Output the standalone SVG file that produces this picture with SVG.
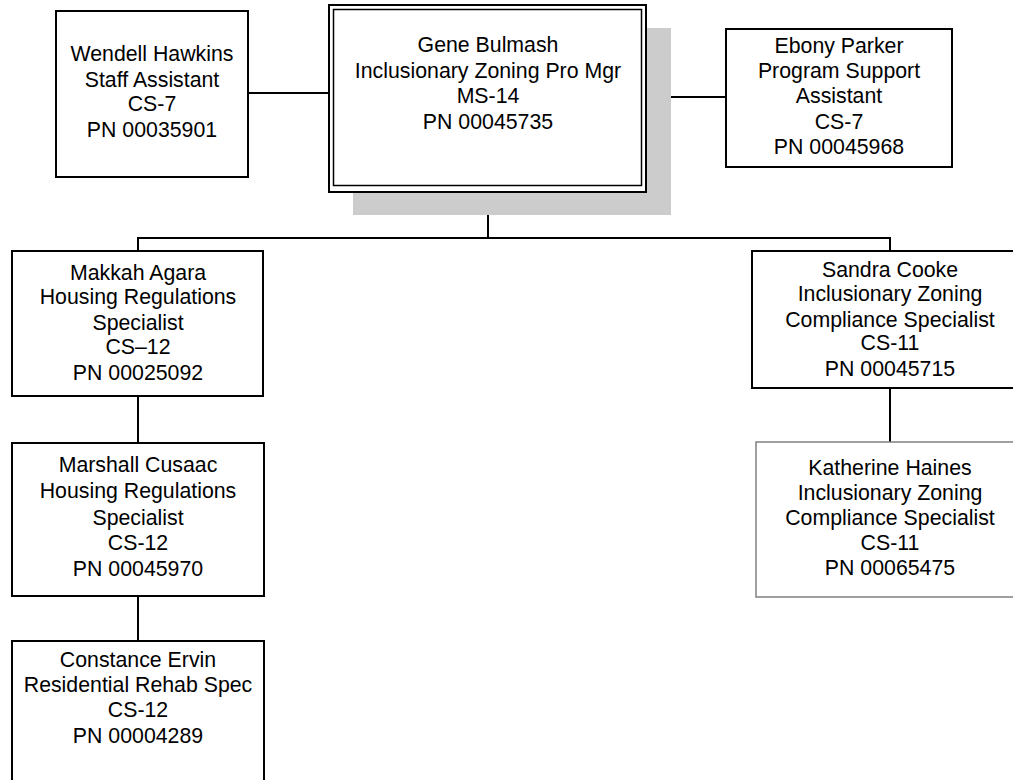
<svg xmlns="http://www.w3.org/2000/svg" width="1013" height="780" viewBox="0 0 1013 780">
  <style>
    .box { fill: #ffffff; stroke: #000000; stroke-width: 2; }
    .box-light { fill: #ffffff; stroke: #808080; stroke-width: 1.5; }
    .shadow { fill: #cccccc; stroke: none; }
    .link { fill: none; stroke: #000000; stroke-width: 2; }
    text { font-family: "Liberation Sans", Arial, sans-serif; font-size: 21.3px; fill: #000000; text-anchor: middle; }
  </style>
  <rect width="1013" height="780" fill="#ffffff"/>

  <!-- reporting lines -->
  <g id="connectors">
    <line class="link" x1="248" y1="93" x2="329" y2="93"/>
    <line class="link" x1="646" y1="97" x2="726" y2="97"/>
    <line class="link" x1="488" y1="192" x2="488" y2="238"/>
    <polyline class="link" points="138,251 138,238 890,238 890,251"/>
    <line class="link" x1="138" y1="396" x2="138" y2="443"/>
    <line class="link" x1="890" y1="388" x2="890" y2="442"/>
    <line class="link" x1="138" y1="596" x2="138" y2="641"/>
  </g>

  <g id="node-bulmash">
    <rect class="shadow" x="353" y="28" width="318" height="187"/>
    <rect class="box" x="329" y="5" width="317" height="187"/>
    <rect fill="none" stroke="#000000" stroke-width="1.5" x="333.5" y="9.5" width="308" height="176"/>
    <text x="488" y="52">Gene Bulmash</text>
    <text x="488" y="78">Inclusionary Zoning Pro Mgr</text>
    <text x="488" y="103">MS-14</text>
    <text x="488" y="129">PN 00045735</text>
  </g>

  <g id="node-hawkins">
    <rect class="box" x="56" y="11" width="192" height="166"/>
    <text x="152" y="61">Wendell Hawkins</text>
    <text x="152" y="87">Staff Assistant</text>
    <text x="152" y="111">CS-7</text>
    <text x="152" y="137">PN 00035901</text>
  </g>

  <g id="node-parker">
    <rect class="box" x="726" y="29" width="226" height="138"/>
    <text x="839" y="53">Ebony Parker</text>
    <text x="839" y="78">Program Support</text>
    <text x="839" y="103">Assistant</text>
    <text x="839" y="129">CS-7</text>
    <text x="839" y="154">PN 00045968</text>
  </g>

  <g id="node-agara">
    <rect class="box" x="12" y="251" width="251" height="145"/>
    <text x="138" y="280">Makkah Agara</text>
    <text x="138" y="304">Housing Regulations</text>
    <text x="138" y="330">Specialist</text>
    <text x="138" y="354">CS–12</text>
    <text x="138" y="380">PN 00025092</text>
  </g>

  <g id="node-cusaac">
    <rect class="box" x="12" y="443" width="252" height="153"/>
    <text x="138" y="472">Marshall Cusaac</text>
    <text x="138" y="498">Housing Regulations</text>
    <text x="138" y="525">Specialist</text>
    <text x="138" y="550">CS-12</text>
    <text x="138" y="576">PN 00045970</text>
  </g>

  <g id="node-ervin">
    <rect class="box" x="12" y="641" width="252" height="150"/>
    <text x="138" y="667">Constance Ervin</text>
    <text x="138" y="692">Residential Rehab Spec</text>
    <text x="138" y="717">CS-12</text>
    <text x="138" y="743">PN 00004289</text>
  </g>

  <g id="node-cooke">
    <rect class="box" x="752" y="251" width="270" height="137"/>
    <text x="890" y="277">Sandra Cooke</text>
    <text x="890" y="301">Inclusionary Zoning</text>
    <text x="890" y="327">Compliance Specialist</text>
    <text x="890" y="350">CS-11</text>
    <text x="890" y="376">PN 00045715</text>
  </g>

  <g id="node-haines">
    <rect class="box-light" x="756" y="442" width="266" height="155"/>
    <text x="890" y="475">Katherine Haines</text>
    <text x="890" y="500">Inclusionary Zoning</text>
    <text x="890" y="525">Compliance Specialist</text>
    <text x="890" y="550">CS-11</text>
    <text x="890" y="575">PN 00065475</text>
  </g>
</svg>
